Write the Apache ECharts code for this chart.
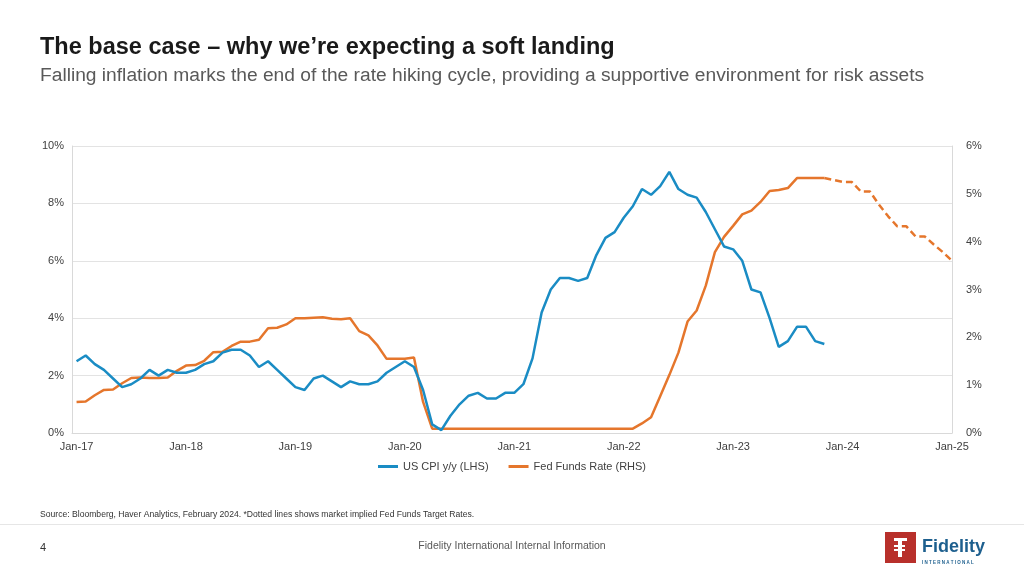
<!DOCTYPE html>
<html>
<head>
<meta charset="utf-8">
<script src="https://cdn.jsdelivr.net/npm/echarts@6/dist/echarts.min.js"></script>
<style>
html,body{margin:0;padding:0;background:#fff;}
#chart{width:1024px;height:576px;}
</style>
</head>
<body>
<div id="chart"></div>
<script>
// ---- Data ----
const months = [
 'Jan-17','Feb-17','Mar-17','Apr-17','May-17','Jun-17','Jul-17','Aug-17','Sep-17','Oct-17','Nov-17','Dec-17',
 'Jan-18','Feb-18','Mar-18','Apr-18','May-18','Jun-18','Jul-18','Aug-18','Sep-18','Oct-18','Nov-18','Dec-18',
 'Jan-19','Feb-19','Mar-19','Apr-19','May-19','Jun-19','Jul-19','Aug-19','Sep-19','Oct-19','Nov-19','Dec-19',
 'Jan-20','Feb-20','Mar-20','Apr-20','May-20','Jun-20','Jul-20','Aug-20','Sep-20','Oct-20','Nov-20','Dec-20',
 'Jan-21','Feb-21','Mar-21','Apr-21','May-21','Jun-21','Jul-21','Aug-21','Sep-21','Oct-21','Nov-21','Dec-21',
 'Jan-22','Feb-22','Mar-22','Apr-22','May-22','Jun-22','Jul-22','Aug-22','Sep-22','Oct-22','Nov-22','Dec-22',
 'Jan-23','Feb-23','Mar-23','Apr-23','May-23','Jun-23','Jul-23','Aug-23','Sep-23','Oct-23','Nov-23','Dec-23',
 'Jan-24','Feb-24','Mar-24','Apr-24','May-24','Jun-24','Jul-24','Aug-24','Sep-24','Oct-24','Nov-24','Dec-24',
 'Jan-25'
];
const xTickLabels = ['Jan-17','Jan-18','Jan-19','Jan-20','Jan-21','Jan-22','Jan-23','Jan-24','Jan-25'];

// US CPI y/y (LHS), Jan-17 .. Nov-23
const cpi = [
 2.5,2.7,2.4,2.2,1.9,1.6,1.7,1.9,2.2,2.0,2.2,2.1,
 2.1,2.2,2.4,2.5,2.8,2.9,2.9,2.7,2.3,2.5,2.2,1.9,
 1.6,1.5,1.9,2.0,1.8,1.6,1.8,1.7,1.7,1.8,2.1,2.3,
 2.5,2.3,1.5,0.3,0.1,0.6,1.0,1.3,1.4,1.2,1.2,1.4,
 1.4,1.7,2.6,4.2,5.0,5.4,5.4,5.3,5.4,6.2,6.8,7.0,
 7.5,7.9,8.5,8.3,8.6,9.1,8.5,8.3,8.2,7.7,7.1,6.5,
 6.4,6.0,5.0,4.9,4.0,3.0,3.2,3.7,3.7,3.2,3.1
];
// Fed Funds Rate (RHS), Jan-17 .. Nov-23
const ffr = [
 0.65,0.66,0.79,0.90,0.91,1.04,1.15,1.16,1.15,1.15,1.16,1.30,
 1.41,1.42,1.51,1.69,1.70,1.82,1.91,1.91,1.95,2.19,2.20,2.27,
 2.40,2.40,2.41,2.42,2.39,2.38,2.40,2.13,2.04,1.83,1.55,1.55,
 1.55,1.58,0.65,0.09,0.09,0.09,0.09,0.09,0.09,0.09,0.09,0.09,
 0.09,0.09,0.09,0.09,0.09,0.09,0.09,0.09,0.09,0.09,0.09,0.09,
 0.09,0.09,0.20,0.33,0.77,1.21,1.68,2.33,2.56,3.08,3.78,4.10,
 4.33,4.57,4.65,4.83,5.06,5.08,5.12,5.33,5.33,5.33,5.33
];
// Market implied Fed Funds path (dotted), Nov-23 .. Jan-25
const ffrImpliedMonths = ['Nov-23','Dec-23','Jan-24','Feb-24','Mar-24','Apr-24','May-24','Jun-24','Jul-24','Aug-24','Sep-24','Oct-24','Nov-24','Dec-24','Jan-25'];
const ffrImplied = [5.33,5.29,5.25,5.25,5.05,5.05,4.77,4.53,4.32,4.32,4.11,4.11,3.94,3.78,3.60];

const cpiName = 'US CPI y/y (LHS)';
const ffrName = 'Fed Funds Rate (RHS)';

// ---- Chart ----
const BLUE = '#1a8cc4';
const ORANGE = '#e5762c';
const FONT = '"Liberation Sans", Arial, Helvetica, sans-serif';
const chart = echarts.init(document.getElementById('chart'), null, {renderer: 'canvas'});

const tickValues = xTickLabels.map(l => months.indexOf(l));

const option = {
  backgroundColor: '#ffffff',
  textStyle: {fontFamily: FONT},
  animation: false,
  title: [
    {text: 'The base case \u2013 why we\u2019re expecting a soft landing', left: 40, top: 36, padding: 0,
     textStyle: {fontFamily: FONT, fontSize: 23.5, fontWeight: 'bold', color: '#1a1a1a'}},
    {text: 'Falling inflation marks the end of the rate hiking cycle, providing a supportive environment for risk assets', left: 40, top: 66, padding: 0,
     textStyle: {fontFamily: FONT, fontSize: 19.2, fontWeight: 'normal', color: '#595959'}},
    {text: 'Source: Bloomberg, Haver Analytics, February 2024. *Dotted lines shows market implied Fed Funds Target Rates.', left: 40, top: 510, padding: 0,
     textStyle: {fontFamily: FONT, fontSize: 8.6, fontWeight: 'normal', color: '#333333'}},
    {text: '4', left: 40, top: 542, padding: 0,
     textStyle: {fontFamily: FONT, fontSize: 11, fontWeight: 'normal', color: '#333333'}},
    {text: 'Fidelity International Internal Information', left: 'center', top: 541, padding: 0,
     textStyle: {fontFamily: FONT, fontSize: 10.5, fontWeight: 'normal', color: '#595959'}}
  ],
  legend: {
    data: [cpiName, ffrName],
    left: 'center', top: 461,
    icon: 'rect', itemWidth: 20, itemHeight: 3, itemGap: 20,
    textStyle: {fontFamily: FONT, fontSize: 11, color: '#404040'},
    padding: 0
  },
  grid: {left: 72, right: 72, top: 146, bottom: 143, containLabel: false},
  xAxis: {
    type: 'value', min: -0.5, max: months.length - 1,
    splitLine: {show: false},
    axisLine: {show: true, onZero: false, lineStyle: {color: '#d9d9d9', width: 1}},
    axisTick: {show: false},
    axisLabel: {
      customValues: tickValues,
      formatter: v => months[Math.round(v)] || '',
      fontFamily: FONT, fontSize: 11, color: '#404040', margin: 8
    }
  },
  yAxis: [
    {type: 'value', min: 0, max: 10, interval: 2, position: 'left',
     axisLine: {show: true, onZero: false, lineStyle: {color: '#d9d9d9'}},
     axisTick: {show: false},
     splitLine: {show: true, lineStyle: {color: '#e3e3e3', width: 1}},
     axisLabel: {formatter: '{value}%', fontFamily: FONT, fontSize: 11, color: '#404040', margin: 8}},
    {type: 'value', min: 0, max: 6, interval: 1, position: 'right',
     axisLine: {show: true, onZero: false, lineStyle: {color: '#d9d9d9'}},
     axisTick: {show: false},
     splitLine: {show: false},
     axisLabel: {formatter: '{value}%', fontFamily: FONT, fontSize: 11, color: '#404040', margin: 14}}
  ],
  series: [
    {name: cpiName, type: 'line', yAxisIndex: 0, showSymbol: false, symbol: 'none',
     lineStyle: {color: BLUE, width: 2.5}, itemStyle: {color: BLUE},
     data: cpi.map((v, i) => [i, v]), z: 3},
    {name: ffrName, type: 'line', yAxisIndex: 1, showSymbol: false, symbol: 'none',
     lineStyle: {color: ORANGE, width: 2.5}, itemStyle: {color: ORANGE},
     data: ffr.map((v, i) => [i, v]), z: 2},
    {name: 'Fed Funds implied', type: 'line', yAxisIndex: 1, showSymbol: false, symbol: 'none',
     lineStyle: {color: ORANGE, width: 2.5, type: [7, 4]}, itemStyle: {color: ORANGE},
     data: ffrImplied.map((v, i) => [months.indexOf(ffrImpliedMonths[i]), v]), z: 2}
  ],
  graphic: [
    {type: 'line', shape: {x1: 0, y1: 524.5, x2: 1024, y2: 524.5}, style: {stroke: '#e6e6e6', lineWidth: 1}, silent: true},
    // Fidelity logo
    {type: 'rect', shape: {x: 885, y: 532, width: 31, height: 31}, style: {fill: '#b8302b'}, silent: true},
    {type: 'rect', shape: {x: 898, y: 538, width: 4, height: 19}, style: {fill: '#ffffff'}, silent: true},
    {type: 'rect', shape: {x: 894, y: 538, width: 13, height: 3}, style: {fill: '#ffffff'}, silent: true},
    {type: 'rect', shape: {x: 894, y: 545, width: 11, height: 2}, style: {fill: '#ffffff'}, silent: true},
    {type: 'rect', shape: {x: 894, y: 549, width: 11, height: 2}, style: {fill: '#ffffff'}, silent: true},
    {type: 'text', x: 922, y: 538, style: {text: 'Fidelity', font: 'bold 18px ' + FONT, fill: '#1d5f8e'}, silent: true},
    {type: 'text', x: 922, y: 560, style: {text: 'I N T E R N A T I O N A L', font: 'bold 4.5px ' + FONT, fill: '#1d5f8e'}, silent: true}
  ]
};
chart.setOption(option);
</script>
</body>
</html>
